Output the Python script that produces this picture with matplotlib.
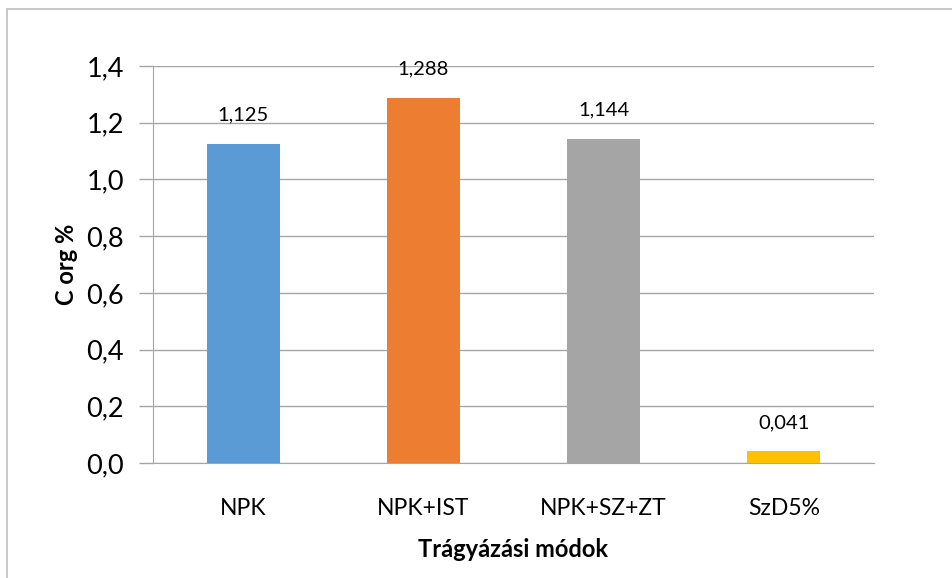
import matplotlib.pyplot as plt
from matplotlib.patches import Rectangle

# adatok
kategoriak = ["NPK", "NPK+IST", "NPK+SZ+ZT", "SzD5%"]
ertekek = [1.125, 1.288, 1.144, 0.041]
cimkek = ["1,125", "1,288", "1,144", "0,041"]
szinek = ["#5b9bd5", "#ed7d31", "#a5a5a5", "#ffc000"]
yticks = [0.0, 0.2, 0.4, 0.6, 0.8, 1.0, 1.2, 1.4]

plt.rcParams['font.family'] = ['Lato', 'DejaVu Sans']

fig = plt.figure(figsize=(9.53, 5.78), dpi=100)
ax = fig.add_axes([153/953, 1 - 463/578, (874 - 153)/953, (463 - 66)/578])

x = range(len(kategoriak))
ax.bar(x, ertekek, width=0.405, color=szinek, zorder=3)
for i, v in enumerate(ertekek):
    ax.text(i, v + 0.072, cimkek[i], ha='center', va='bottom', fontsize=14.5, color='#000000')

ax.set_xlim(-0.5, 3.5)
ax.set_ylim(0, 1.4)
ax.set_yticks(yticks)
ax.set_yticklabels([f"{t:.1f}".replace('.', ',') for t in yticks], fontsize=19.5)
ax.set_xticks(list(x))
ax.set_xticklabels(kategoriak, fontsize=16.5)
ax.grid(axis='y', color='#a6a6a6', linewidth=1, zorder=0)
ax.tick_params(axis='y', length=10, color='#a6a6a6', width=1, pad=11)
ax.tick_params(axis='x', length=0, pad=25)
for s in ['top', 'right']:
    ax.spines[s].set_visible(False)
ax.spines['left'].set_color('#a6a6a6')
ax.spines['bottom'].set_color('#a6a6a6')

ax.set_xlabel("Trágyázási módok", fontsize=17, fontweight='bold', labelpad=14)
ax.set_ylabel("C org %", fontsize=17, fontweight='bold', labelpad=6)

# keret
fig.patches.append(Rectangle((7/953, -0.1), 1.2, (578 - 9)/578 + 0.1,
                             transform=fig.transFigure, fill=False,
                             edgecolor='#bfbfbf', linewidth=1.2))

fig.savefig("out.png", dpi=100)
